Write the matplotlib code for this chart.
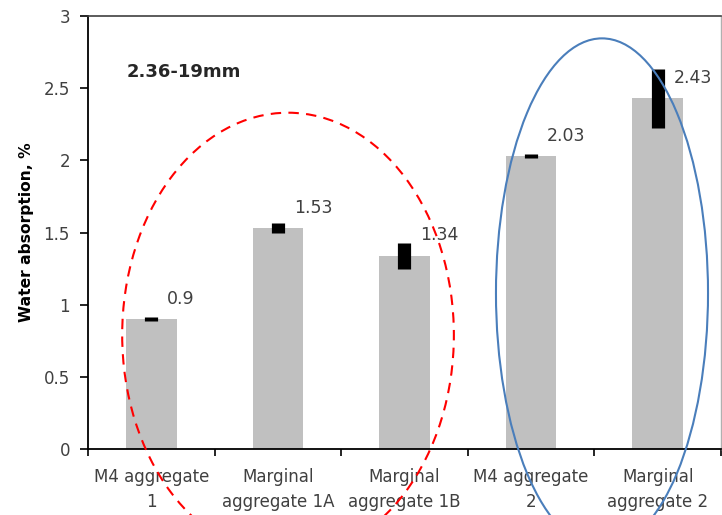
import matplotlib.pyplot as plt
from matplotlib.patches import Ellipse

# values
categories = ["M4 aggregate\n1", "Marginal\naggregate 1A", "Marginal\naggregate 1B",
              "M4 aggregate\n2", "Marginal\naggregate 2"]
absorption = [0.90, 1.53, 1.34, 2.03, 2.43]
spread = [0.015, 0.035, 0.09, 0.017, 0.205]
labels = ["0.9", "1.53", "1.34", "2.03", "2.43"]
yticks = [0, 0.5, 1, 1.5, 2, 2.5, 3]
ytick_labels = ["0", "0.5", "1", "1.5", "2", "2.5", "3"]

plt.rcParams['font.family'] = 'DejaVu Sans'

fig = plt.figure(figsize=(7.22, 5.15), dpi=100)
ax = fig.add_axes([88/722, 1 - 449/515, 633/722, 433/515])

x = list(range(len(categories)))
ax.bar(x, absorption, width=0.4, color='#c0c0c0', zorder=2)
eb = ax.errorbar(x, absorption, yerr=spread, fmt='none', ecolor='black',
                 elinewidth=9.5, capsize=0, zorder=3)
for lc in eb[2]:
    lc.set_capstyle('butt')

for xi, v, t in zip(x, absorption, labels):
    ax.annotate(t, (xi, v), xytext=(11.5, 14.5), textcoords='offset points',
                ha='left', va='center', fontsize=12.5, color='#404040')

ax.set_xlim(-0.5, len(categories) - 0.5)
ax.set_ylim(0, 3)
ax.set_yticks(yticks)
ax.set_yticklabels(ytick_labels, fontsize=12, color='#404040')
ax.set_xticks(x)
ax.set_xticklabels(categories, fontsize=12, color='#404040', linespacing=1.45)
ax.set_xticks([i - 0.5 for i in range(len(categories) + 1)], minor=True)
ax.tick_params(axis='x', which='major', length=0, pad=14)
ax.tick_params(axis='x', which='minor', length=5, width=1.2, direction='out')
ax.tick_params(axis='y', length=6, width=1.2, direction='out', pad=7)

for s in ['left', 'bottom']:
    ax.spines[s].set_linewidth(1.3)
    ax.spines[s].set_color('black')
ax.spines['top'].set_color('#404040')
ax.spines['top'].set_linewidth(1.2)
ax.spines['right'].set_color('#b0b0b0')
ax.spines['right'].set_linewidth(1.0)

fig.text(27/722, 1 - 232/515, "Water absorption, %", rotation=90,
         ha='center', va='center', fontsize=11.2, fontweight='bold')
fig.text(127/722, 1 - 72/515, "2.36-19mm", ha='left', va='center',
         fontsize=13, fontweight='bold', color='#262626')

# highlight ellipses
ax.add_patch(Ellipse((1.08, 0.79), 2.62, 3.08, fill=False, edgecolor='red',
                     linestyle=(0, (5, 3.5)), linewidth=1.5, clip_on=False, zorder=4))
ax.add_patch(Ellipse((3.56, 1.08), 1.675, 3.53, fill=False, edgecolor='#4a7ebb',
                     linewidth=1.5, clip_on=False, zorder=4))

fig.savefig("out.png", dpi=100)
